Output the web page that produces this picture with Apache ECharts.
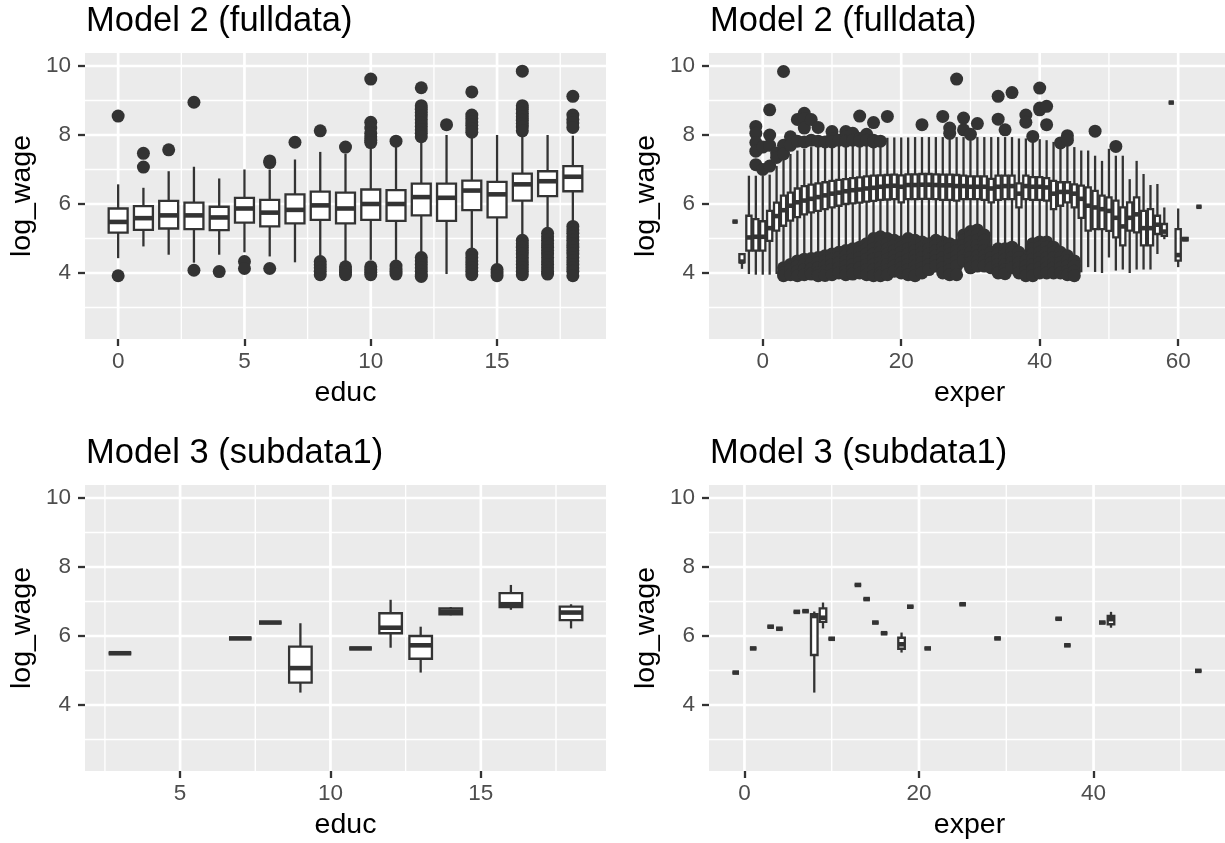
<!DOCTYPE html>
<html>
<head>
<meta charset="utf-8">
<script src="https://cdn.jsdelivr.net/npm/echarts@6/dist/echarts.min.js"></script>
<style>
  html, body { margin: 0; padding: 0; background: #fff; }
  #main { width: 1225px; height: 843px; }
</style>
</head>
<body>
<div id="main"></div>
<script>
// ggplot-like look
const FONT = '"Liberation Sans", Arial, sans-serif';
const INK = '#333333';
const LW = 2.3;

// shared y axis
const yMajor = [4, 6, 8, 10];
const yMinor = [3, 5, 7, 9];
const yRange = [2.087, 10.377];

// ---- Model 2 (fulldata) by educ ----
const educ = [0, 1, 2, 3, 4, 5, 6, 7, 8, 9, 10, 11, 12, 13, 14, 15, 16, 17, 18];
const educLo  = [4.43, 4.77, 4.53, 4.30, 4.53, 4.60, 4.48, 4.31, 4.45, 4.26, 4.38, 4.38, 4.52, 3.97, 4.60, 4.26, 5.12, 5.27, 5.51];
const educQ1  = [5.17, 5.25, 5.29, 5.27, 5.24, 5.46, 5.35, 5.44, 5.54, 5.44, 5.54, 5.51, 5.67, 5.51, 5.82, 5.61, 6.10, 6.23, 6.37];
const educMed = [5.48, 5.59, 5.67, 5.67, 5.61, 5.87, 5.75, 5.83, 5.96, 5.87, 6.00, 6.00, 6.20, 6.18, 6.39, 6.28, 6.57, 6.66, 6.79];
const educQ3  = [5.87, 5.94, 6.09, 6.04, 5.92, 6.18, 6.12, 6.28, 6.36, 6.33, 6.42, 6.40, 6.59, 6.59, 6.68, 6.64, 6.88, 6.95, 7.10];
const educHi  = [6.57, 6.47, 6.95, 7.08, 6.74, 7.00, 7.00, 7.29, 7.51, 7.46, 7.63, 7.67, 7.90, 8.00, 7.95, 8.00, 7.95, 8.00, 7.98];
const educOutliers = [
  [0, [8.55, 3.92]],
  [1, [7.47, 7.07]],
  [2, [7.57]],
  [3, [8.95, 4.08]],
  [4, [4.04]],
  [5, [4.33, 4.13]],
  [6, [7.25, 7.20, 4.13]],
  [7, [7.79]],
  [8, [8.12, 4.33, 4.24, 4.15, 4.05, 3.95]],
  [9, [7.65, 4.18, 4.10, 4.02, 3.95]],
  [10, [9.62, 8.37, 8.20, 8.05, 7.95, 7.85, 7.78, 4.18, 4.10, 4.02, 3.95]],
  [11, [7.82, 4.20, 4.12, 4.05, 3.97]],
  [12, [9.37, 8.85, 8.75, 8.65, 8.55, 8.45, 8.35, 8.25, 8.15, 8.05, 7.95, 4.45, 4.35, 4.25, 4.15, 4.05, 3.95, 3.90]],
  [13, [8.30]],
  [14, [9.25, 8.58, 8.48, 8.38, 8.28, 8.18, 8.08, 4.55, 4.45, 4.35, 4.25, 4.15, 4.05, 3.95]],
  [15, [4.10, 4.00, 3.92]],
  [16, [9.85, 8.85, 8.75, 8.63, 8.53, 8.43, 8.33, 8.23, 8.12, 4.95, 4.85, 4.75, 4.65, 4.55, 4.45, 4.35, 4.25, 4.15, 4.05, 3.95]],
  [17, [5.15, 5.05, 4.95, 4.85, 4.75, 4.65, 4.55, 4.45, 4.35, 4.25, 4.15, 4.05, 3.97]],
  [18, [9.12, 8.58, 8.45, 8.35, 8.22, 5.35, 5.25, 5.15, 5.05, 4.95, 4.85, 4.75, 4.65, 4.55, 4.45, 4.35, 4.25, 4.15, 4.05, 3.92]]
];
const educMajor = [0, 5, 10, 15];
const educMinor = [2.5, 7.5, 12.5, 17.5];

// ---- Model 2 (fulldata) by exper ----
const exper = [-4, -3, -2, -1, 0, 1, 2, 3, 4, 5,
  6, 7, 8, 9, 10, 11, 12, 13, 14, 15,
  16, 17, 18, 19, 20, 21, 22, 23, 24, 25,
  26, 27, 28, 29, 30, 31, 32, 33, 34, 35,
  36, 37, 38, 39, 40, 41, 42, 43, 44, 45,
  46, 47, 48, 49, 50, 51, 52, 53, 54, 55,
  56, 57, 58, 59, 60, 61, 63];
const experLo = [5.49, 4.12, 3.97, 3.95, 3.95, 3.95, 3.97, 4.20, 4.30, 4.40,
  4.45, 4.50, 4.55, 4.60, 4.65, 4.70, 4.75, 4.80, 4.85, 4.95,
  5.10, 5.15, 5.10, 5.05, 5.00, 5.05, 5.05, 5.00, 4.95, 5.00,
  5.00, 4.95, 4.90, 5.15, 5.25, 5.30, 5.15, 4.70, 4.75, 4.75,
  4.80, 4.65, 4.45, 4.90, 4.95, 4.95, 4.80, 4.65, 4.55, 4.40,
  4.02, 4.17, 4.03, 4.00, 4.45, 4.07, 4.10, 4.00, 4.10, 4.10,
  4.10, 4.55, 4.98, 8.94, 4.17, 4.93, 5.92];
const experQ1 = [5.49, 4.31, 4.65, 4.65, 4.65, 4.93, 5.23, 5.37, 5.52, 5.62,
  5.70, 5.76, 5.80, 5.85, 5.90, 5.95, 6.00, 6.02, 6.04, 6.07,
  6.09, 6.12, 6.13, 6.14, 6.05, 6.14, 6.14, 6.15, 6.15, 6.14,
  6.12, 6.12, 6.10, 6.14, 6.14, 6.14, 6.12, 6.05, 6.12, 6.14,
  6.14, 5.90, 6.14, 6.12, 6.12, 6.10, 5.85, 5.95, 6.05, 5.90,
  5.60, 5.23, 5.27, 5.27, 5.22, 5.03, 4.80, 5.23, 5.18, 4.80,
  4.80, 5.13, 5.08, 8.94, 4.36, 4.95, 5.92];
const experMed = [5.49, 4.33, 5.03, 5.05, 5.05, 5.30, 5.65, 5.82, 5.95, 6.05,
  6.10, 6.15, 6.20, 6.25, 6.30, 6.33, 6.37, 6.40, 6.42, 6.45,
  6.47, 6.50, 6.52, 6.53, 6.50, 6.55, 6.55, 6.56, 6.56, 6.55,
  6.54, 6.54, 6.52, 6.52, 6.50, 6.50, 6.50, 6.45, 6.50, 6.52,
  6.52, 6.30, 6.52, 6.50, 6.50, 6.48, 6.30, 6.35, 6.35, 6.30,
  6.15, 5.95, 5.90, 5.85, 5.80, 5.60, 5.35, 5.60, 5.70, 5.30,
  5.30, 5.40, 5.20, 8.94, 4.52, 4.98, 5.92];
const experQ3 = [5.49, 4.55, 5.66, 5.56, 5.50, 5.80, 6.04, 6.24, 6.33, 6.45,
  6.52, 6.56, 6.60, 6.63, 6.67, 6.70, 6.72, 6.75, 6.77, 6.80,
  6.82, 6.83, 6.84, 6.85, 6.83, 6.86, 6.86, 6.87, 6.87, 6.86,
  6.85, 6.85, 6.84, 6.82, 6.80, 6.80, 6.80, 6.73, 6.82, 6.82,
  6.82, 6.60, 6.82, 6.78, 6.78, 6.75, 6.67, 6.63, 6.63, 6.57,
  6.53, 6.48, 6.38, 6.24, 6.19, 6.10, 5.90, 6.05, 6.19, 5.80,
  5.85, 5.66, 5.42, 8.94, 5.27, 5.02, 5.92];
const experHi = [5.49, 4.55, 6.82, 6.82, 6.82, 6.85, 7.10, 7.30, 7.45, 7.55,
  7.60, 7.65, 7.70, 7.70, 7.72, 7.74, 7.75, 7.76, 7.77, 7.78,
  7.78, 7.78, 7.92, 7.93, 7.93, 7.93, 7.94, 7.94, 7.94, 7.94,
  7.94, 7.94, 7.94, 7.94, 7.94, 7.94, 7.94, 7.94, 7.94, 7.94,
  7.94, 7.90, 7.90, 7.88, 7.88, 7.85, 7.80, 7.70, 7.72, 7.65,
  7.55, 7.55, 7.40, 7.25, 7.60, 7.40, 7.40, 6.72, 7.25, 6.87,
  6.55, 6.58, 5.90, 8.94, 5.87, 5.04, 5.92];
const experOutliers = [
  [-1, [8.25, 8.05, 7.78, 7.53, 7.14]],
  [0, [7.00, 7.65]],
  [1, [8.73, 8.00, 7.70, 7.10]],
  [2, [7.48, 7.35]],
  [3, [9.84, 7.70, 7.45, 4.15, 4.00, 3.92]],
  [4, [7.95, 7.70, 4.25, 4.10, 3.95]],
  [5, [8.45, 7.82, 4.35, 4.20, 4.05, 3.92]],
  [6, [8.63, 8.47, 8.20, 7.80, 4.40, 4.25, 4.10, 3.95]],
  [7, [8.45, 7.85, 4.42, 4.28, 4.12, 3.97]],
  [8, [8.22, 7.82, 4.45, 4.30, 4.15, 4.00, 3.92]],
  [9, [7.80, 4.50, 4.35, 4.20, 4.05, 3.93]],
  [10, [8.10, 7.90, 7.80, 4.55, 4.40, 4.25, 4.10, 3.95]],
  [11, [7.85, 4.60, 4.45, 4.30, 4.15, 4.00]],
  [12, [8.10, 7.95, 7.82, 4.65, 4.50, 4.35, 4.20, 4.05, 3.95]],
  [13, [8.05, 7.85, 4.70, 4.55, 4.40, 4.25, 4.10, 3.97]],
  [14, [8.55, 7.90, 7.82, 4.75, 4.60, 4.45, 4.30, 4.15, 4.00]],
  [15, [8.02, 7.85, 4.85, 4.70, 4.55, 4.40, 4.25, 4.10, 3.95]],
  [16, [8.36, 7.85, 7.80, 5.00, 4.85, 4.70, 4.55, 4.40, 4.25, 4.10, 3.92]],
  [17, [7.82, 5.05, 4.90, 4.75, 4.60, 4.45, 4.30, 4.15, 4.00, 3.92]],
  [18, [8.54, 5.00, 4.85, 4.70, 4.55, 4.40, 4.25, 4.10, 3.95]],
  [19, [4.95, 4.80, 4.65, 4.50, 4.35, 4.20, 4.05]],
  [20, [4.90, 4.75, 4.60, 4.45, 4.30, 4.15, 4.00]],
  [21, [5.00, 4.85, 4.70, 4.55, 4.40, 4.25, 4.10, 3.95]],
  [22, [4.95, 4.80, 4.65, 4.50, 4.35, 4.20, 4.05, 3.92]],
  [23, [8.30, 4.90, 4.75, 4.60, 4.45, 4.30, 4.15, 4.00]],
  [24, [4.85, 4.70, 4.55, 4.40, 4.25, 4.10]],
  [25, [4.95, 4.80, 4.65, 4.50, 4.35, 4.20]],
  [26, [8.54, 4.90, 4.75, 4.60, 4.45, 4.30, 4.15, 4.00]],
  [27, [8.20, 8.05, 4.85, 4.70, 4.55, 4.40, 4.25, 4.10, 3.95]],
  [28, [9.62, 4.80, 4.65, 4.50, 4.35, 4.20, 3.95]],
  [29, [8.49, 8.15, 5.10, 4.95, 4.80, 4.65, 4.50, 4.35]],
  [30, [8.02, 5.20, 5.05, 4.90, 4.75, 4.60, 4.45, 4.30, 4.15]],
  [31, [8.33, 5.25, 5.10, 4.95, 4.80, 4.65, 4.50, 4.35, 4.20]],
  [32, [5.10, 4.95, 4.80, 4.65, 4.50, 4.35, 4.20]],
  [33, [4.60, 4.45, 4.30, 4.15]],
  [34, [9.12, 8.46, 4.70, 4.55, 4.40, 4.25, 4.10, 4.00]],
  [35, [8.15, 4.70, 4.55, 4.40, 4.25, 4.10, 3.98]],
  [36, [9.23, 4.75, 4.60, 4.45, 4.30, 4.15]],
  [37, [4.60, 4.45, 4.30, 4.15, 4.00]],
  [38, [8.58, 8.37, 4.35, 4.20, 4.05, 3.92]],
  [39, [7.96, 4.85, 4.70, 4.55, 4.40, 4.25, 4.10, 3.92]],
  [40, [9.36, 8.78, 8.73, 4.90, 4.75, 4.60, 4.45, 4.30, 4.15, 4.00]],
  [41, [8.83, 8.30, 4.90, 4.75, 4.60, 4.45, 4.30, 4.15, 4.00]],
  [42, [4.75, 4.60, 4.45, 4.30, 4.15, 4.00]],
  [43, [7.77, 4.60, 4.45, 4.30, 4.15, 4.00]],
  [44, [7.98, 7.85, 4.50, 4.35, 4.20, 4.05, 3.95]],
  [45, [4.35, 4.20, 4.05, 3.92]],
  [48, [8.11]],
  [51, [7.67]]
];
const experMajor = [0, 20, 40, 60];
const experMinor = [10, 30, 50];

// ---- Model 3 (subdata1) by educ ----
const subEduc = [3, 7, 8, 9, 11, 12, 13, 14, 16, 18];
const subEducLo  = [5.50, 5.93, 6.39, 4.36, 5.64, 5.66, 4.94, 6.60, 6.76, 6.22];
const subEducQ1  = [5.50, 5.93, 6.39, 4.65, 5.64, 6.08, 5.34, 6.63, 6.84, 6.46];
const subEducMed = [5.50, 5.93, 6.39, 5.07, 5.64, 6.24, 5.73, 6.71, 6.92, 6.68];
const subEducQ3  = [5.50, 5.93, 6.39, 5.69, 5.64, 6.66, 6.00, 6.80, 7.24, 6.85];
const subEducHi  = [5.50, 5.93, 6.39, 6.37, 5.64, 7.05, 6.27, 6.84, 7.48, 6.92];
const subEducMajor = [5, 10, 15];
const subEducMinor = [2.5, 7.5, 12.5, 17.5];

// ---- Model 3 (subdata1) by exper ----
const subExper = [-1, 1, 3, 4, 6, 7, 8, 9, 10, 13, 14, 15, 16, 18, 19, 21, 25, 29, 36, 37, 41, 42, 52];
const subExperLo  = [4.94, 5.64, 6.27, 6.21, 6.70, 6.72, 4.36, 6.22, 5.92, 7.48, 7.07, 6.39, 6.08, 5.52, 6.85, 5.64, 6.92, 5.93, 6.50, 5.73, 6.39, 6.24, 4.99];
const subExperQ1  = [4.94, 5.64, 6.27, 6.21, 6.70, 6.72, 5.45, 6.41, 5.92, 7.48, 7.07, 6.39, 6.08, 5.63, 6.85, 5.64, 6.92, 5.93, 6.50, 5.73, 6.39, 6.34, 4.99];
const subExperMed = [4.94, 5.64, 6.27, 6.21, 6.70, 6.72, 6.58, 6.53, 5.92, 7.48, 7.07, 6.39, 6.08, 5.76, 6.85, 5.64, 6.92, 5.93, 6.50, 5.73, 6.39, 6.49, 4.99];
const subExperQ3  = [4.94, 5.64, 6.27, 6.21, 6.70, 6.72, 6.63, 6.80, 5.92, 7.48, 7.07, 6.39, 6.08, 5.95, 6.85, 5.64, 6.92, 5.93, 6.50, 5.73, 6.39, 6.58, 4.99];
const subExperHi  = [4.94, 5.64, 6.27, 6.21, 6.70, 6.72, 6.71, 6.97, 5.92, 7.48, 7.07, 6.39, 6.08, 6.10, 6.85, 5.64, 6.92, 5.93, 6.50, 5.73, 6.39, 6.70, 4.99];
const subExperMajor = [0, 20, 40];
const subExperMinor = [10, 30, 50];

const panels = [
  { title: 'Model 2 (fulldata)', xName: 'educ', left: 85, top: 53, width: 521, xRange: [-1.3125, 19.3125],
    major: educMajor, minor: educMinor, x: educ, lo: educLo, q1: educQ1, med: educMed, q3: educQ3, hi: educHi, out: educOutliers },
  { title: 'Model 2 (fulldata)', xName: 'exper', left: 709, top: 53, width: 521.3, xRange: [-7.7625, 66.7625],
    major: experMajor, minor: experMinor, x: exper, lo: experLo, q1: experQ1, med: experMed, q3: experQ3, hi: experHi, out: experOutliers },
  { title: 'Model 3 (subdata1)', xName: 'educ', left: 85, top: 485, width: 521, xRange: [1.8375, 19.1625],
    major: subEducMajor, minor: subEducMinor, x: subEduc, lo: subEducLo, q1: subEducQ1, med: subEducMed, q3: subEducQ3, hi: subEducHi, out: [] },
  { title: 'Model 3 (subdata1)', xName: 'exper', left: 709, top: 485, width: 521, xRange: [-4.0625, 55.0625],
    major: subExperMajor, minor: subExperMinor, x: subExper, lo: subExperLo, q1: subExperQ1, med: subExperMed, q3: subExperQ3, hi: subExperHi, out: [] }
];
const PANEL_H = 286;
const BOX_W = 0.75;

function gridLines(p, i) {
  const data = [];
  yMinor.forEach(v => data.push([0, v, 1.35]));
  p.minor.forEach(v => data.push([1, v, 1.35]));
  yMajor.forEach(v => data.push([0, v, 2.7]));
  p.major.forEach(v => data.push([1, v, 2.7]));
  return {
    type: 'custom', xAxisIndex: i, yAxisIndex: i, z: 1, silent: true, clip: true,
    data: data,
    renderItem: function (params, api) {
      const cs = params.coordSys;
      const v = api.value(1);
      const lw = api.value(2);
      if (api.value(0) === 0) {
        const y = api.coord([p.xRange[0], v])[1];
        return { type: 'line', shape: { x1: cs.x, y1: y, x2: cs.x + cs.width, y2: y },
          style: { stroke: '#ffffff', lineWidth: lw } };
      }
      const x = api.coord([v, yRange[0]])[0];
      return { type: 'line', shape: { x1: x, y1: cs.y, x2: x, y2: cs.y + cs.height },
        style: { stroke: '#ffffff', lineWidth: lw } };
    }
  };
}

function boxes(p, i) {
  return {
    type: 'custom', xAxisIndex: i, yAxisIndex: i, z: 3, silent: true,
    data: p.x.map((x, k) => [x, p.lo[k], p.q1[k], p.med[k], p.q3[k], p.hi[k]]),
    renderItem: function (params, api) {
      const x = api.value(0);
      const half = api.size([BOX_W, 0])[0] / 2;
      const yAt = d => api.coord([x, api.value(d)])[1];
      const cx = api.coord([x, api.value(3)])[0];
      const yLo = yAt(1), yQ1 = yAt(2), yMed = yAt(3), yQ3 = yAt(4), yHi = yAt(5);
      return {
        type: 'group',
        children: [
          { type: 'line', shape: { x1: cx, y1: yHi, x2: cx, y2: yQ3 }, style: { stroke: INK, lineWidth: LW } },
          { type: 'line', shape: { x1: cx, y1: yQ1, x2: cx, y2: yLo }, style: { stroke: INK, lineWidth: LW } },
          { type: 'rect', shape: { x: cx - half, y: yQ3, width: 2 * half, height: yQ1 - yQ3 },
            style: { fill: '#ffffff', stroke: INK, lineWidth: LW } },
          { type: 'line', shape: { x1: cx - half, y1: yMed, x2: cx + half, y2: yMed },
            style: { stroke: INK, lineWidth: 2 * LW } }
        ]
      };
    }
  };
}

function outliers(p, i) {
  const pts = [];
  p.out.forEach(([x, vals]) => vals.forEach(v => pts.push([x, v])));
  return {
    type: 'scatter', xAxisIndex: i, yAxisIndex: i, z: 4, silent: true,
    symbol: 'circle', symbolSize: 13,
    itemStyle: { color: INK, opacity: 1 },
    data: pts
  };
}

const tickLabel = { color: '#4D4D4D', fontSize: 22.5, fontFamily: FONT };
const tickStyle = { show: true, length: 7, lineStyle: { color: INK, width: 2.3 } };

const option = {
  animation: false,
  backgroundColor: '#ffffff',
  grid: panels.map(p => ({
    left: p.left, top: p.top, width: p.width, height: PANEL_H,
    show: true, backgroundColor: '#EBEBEB', borderWidth: 0
  })),
  xAxis: panels.map((p, i) => ({
    type: 'value', gridIndex: i, min: p.xRange[0], max: p.xRange[1],
    axisLine: { show: false, onZero: false },
    splitLine: { show: false },
    axisTick: Object.assign({ customValues: p.major }, tickStyle),
    axisLabel: Object.assign({ customValues: p.major, margin: 11 }, tickLabel)
  })),
  yAxis: panels.map((p, i) => ({
    type: 'value', gridIndex: i, min: yRange[0], max: yRange[1],
    axisLine: { show: false, onZero: false },
    splitLine: { show: false },
    axisTick: Object.assign({ customValues: yMajor }, tickStyle),
    axisLabel: Object.assign({ customValues: yMajor, margin: 14 }, tickLabel)
  })),
  series: [].concat(
    panels.map(gridLines),
    panels.map(boxes),
    panels.map(outliers)
  ),
  graphic: [].concat(
    panels.map(p => ({
      type: 'text', x: p.left + 1, y: p.top - 32, silent: true,
      style: { text: p.title, font: '34.5px ' + FONT, fill: '#000000',
        textAlign: 'left', align: 'left', textVerticalAlign: 'middle', verticalAlign: 'middle' }
    })),
    panels.map(p => ({
      type: 'text', x: p.left + p.width / 2, y: p.top + PANEL_H + 54.5, silent: true,
      style: { text: p.xName, font: '28.5px ' + FONT, fill: '#000000',
        textAlign: 'center', align: 'center', textVerticalAlign: 'middle', verticalAlign: 'middle' }
    })),
    panels.map(p => ({
      type: 'text', x: p.left - 63, y: p.top + PANEL_H / 2, rotation: Math.PI / 2, silent: true,
      style: { text: 'log_wage', font: '28.5px ' + FONT, fill: '#000000',
        textAlign: 'center', align: 'center', textVerticalAlign: 'middle', verticalAlign: 'middle' }
    }))
  )
};

const chart = echarts.init(document.getElementById('main'), null, { renderer: 'canvas' });
chart.setOption(option);
</script>
</body>
</html>
